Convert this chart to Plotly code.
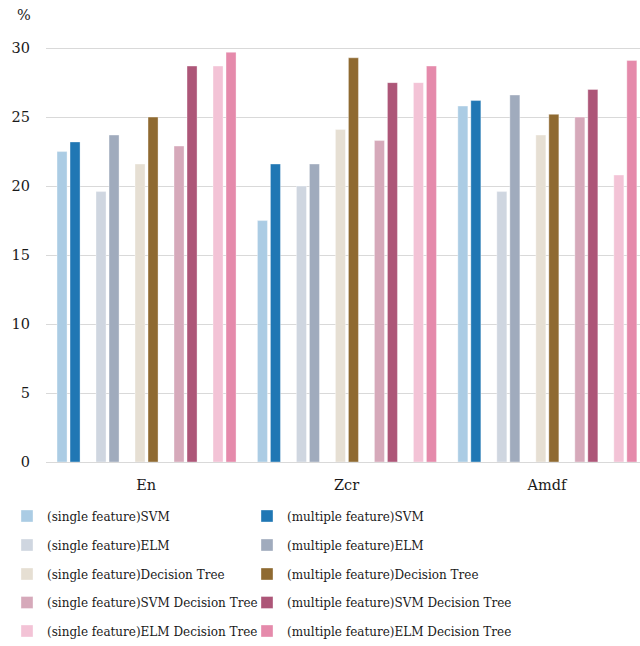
import plotly.graph_objects as go

categories = ["En", "Zcr", "Amdf"]

series_names = [
    "(single feature)SVM", "(multiple feature)SVM",
    "(single feature)ELM", "(multiple feature)ELM",
    "(single feature)Decision Tree", "(multiple feature)Decision Tree",
    "(single feature)SVM Decision Tree", "(multiple feature)SVM Decision Tree",
    "(single feature)ELM Decision Tree", "(multiple feature)ELM Decision Tree",
]

single_svm = [22.5, 17.5, 25.8]
multi_svm = [23.2, 21.6, 26.2]
single_elm = [19.6, 20.0, 19.6]
multi_elm = [23.7, 21.6, 26.6]
single_dt = [21.6, 24.1, 23.7]
multi_dt = [25.0, 29.3, 25.2]
single_svmdt = [22.9, 23.3, 25.0]
multi_svmdt = [28.7, 27.5, 27.0]
single_elmdt = [28.7, 27.5, 20.8]
multi_elmdt = [29.7, 28.7, 29.1]

series_values = [single_svm, multi_svm, single_elm, multi_elm, single_dt,
                 multi_dt, single_svmdt, multi_svmdt, single_elmdt, multi_elmdt]

colors = ["#abcce4", "#2077b4", "#cfd6e0", "#a0abbd", "#e6dfd3",
          "#8f6a31", "#d6a9ba", "#ad5678", "#f3c3d6", "#e58aab"]

FONT = "DejaVu Serif"
TXT = "#1a1a1a"

fig = go.Figure()
bar_w = 0.05
layout_legends = {}
row_y = [516, 545, 574, 602.5, 631]
col_x = [7, 247]
for k, (name, vals, col) in enumerate(zip(series_names, series_values, colors)):
    p, s = divmod(k, 2)
    key = "legend" if k == 0 else f"legend{k + 1}"
    fig.add_trace(go.Bar(
        x=categories, y=vals, name=name,
        marker=dict(color=col, line=dict(color="rgba(255,255,255,0.6)", width=0.6)),
        width=bar_w, offset=-0.445 + p * 0.1946 + s * 0.0649,
        legend=key, showlegend=True,
    ))
    layout_legends[key] = dict(
        orientation="h", xref="container", yref="container",
        x=col_x[s] / 640, y=1 - row_y[p] / 646,
        xanchor="left", yanchor="middle",
        font=dict(family=FONT, size=12, color=TXT),
        bgcolor="rgba(0,0,0,0)",
    )

fig.update_layout(
    width=640, height=646,
    showlegend=True,
    margin=dict(l=46, r=0, t=44.4, b=184),
    paper_bgcolor="white", plot_bgcolor="white",
    barmode="overlay",
    font=dict(family=FONT, color=TXT),
    xaxis=dict(
        type="category", range=[-0.5, 2.464], automargin=False,
        showline=True, linecolor="#d9d9d9", linewidth=1,
        showgrid=False, ticks="", ticklabelstandoff=10,
        tickfont=dict(family=FONT, size=14.5, color=TXT),
    ),
    yaxis=dict(
        range=[0, 30.3], tickvals=[0, 5, 10, 15, 20, 25, 30], automargin=False,
        showgrid=True, gridcolor="#d9d9d9", gridwidth=1,
        zeroline=False, showline=False, ticks="",
        ticklabelstandoff=15,
        tickfont=dict(family=FONT, size=14.5, color=TXT),
    ),
    annotations=[dict(
        text="%", xref="paper", yref="paper", x=-0.037, y=1.0,
        xanchor="center", yanchor="bottom", yshift=19, showarrow=False,
        font=dict(family=FONT, size=14.5, color=TXT),
    )],
    **layout_legends,
)

fig.write_html("out.html", config={"displayModeBar": False},
               post_script="document.body.style.margin='0';")
